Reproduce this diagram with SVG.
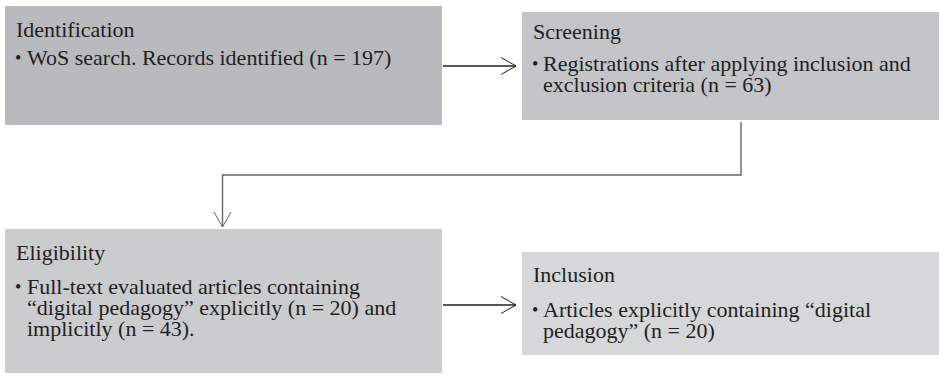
<svg xmlns="http://www.w3.org/2000/svg" width="939" height="375" viewBox="0 0 939 375">
<defs>
<marker id="open" viewBox="0 0 18 20" refX="16" refY="10" markerWidth="18" markerHeight="20" markerUnits="userSpaceOnUse" orient="auto">
<path d="M1,1.5 L16,10 L1,18.5" fill="none" stroke="context-stroke" stroke-width="1"/>
</marker>
</defs>
<style>
text{font-family:"Liberation Serif","Times New Roman",serif;font-size:22px;fill:#231f20}
.b{font-size:18px}
.conn{fill:none;stroke:#231f20;stroke-width:1.6}
.elbow{fill:none;stroke:#666;stroke-width:1.4}
</style>
<rect width="939" height="375" fill="#fff"/>
<g id="identification">
<rect x="5" y="6" width="437" height="119" fill="#b9babd"/>
<text x="16" y="37">Identification</text>
<text class="b" x="15" y="64">•</text><text x="27" y="65">WoS search. Records identified (n = 197)</text>
</g>
<g id="screening">
<rect x="522" y="12" width="417" height="108" fill="#c4c5c8"/>
<text x="533" y="39">Screening</text>
<text class="b" x="532" y="70">•</text><text x="543" y="71">Registrations after applying inclusion and</text>
<text x="543" y="92">exclusion criteria (n = 63)</text>
</g>
<g id="eligibility">
<rect x="5" y="229" width="437" height="144" fill="#cbccce"/>
<text x="16" y="260">Eligibility</text>
<text class="b" x="15" y="293">•</text><text x="27" y="294">Full-text evaluated articles containing</text>
<text x="27" y="315">“digital pedagogy” explicitly (n = 20) and</text>
<text x="27" y="336">implicitly (n = 43).</text>
</g>
<g id="inclusion">
<rect x="522" y="252" width="417" height="103" fill="#d6d7d9"/>
<text x="533" y="282">Inclusion</text>
<text class="b" x="532" y="316">•</text><text x="543" y="317">Articles explicitly containing “digital</text>
<text x="543" y="338">pedagogy” (n = 20)</text>
</g>
<g id="connectors">
<path class="conn" d="M443,66 H516" marker-end="url(#open)"/>
<path class="elbow" d="M741,122 V175 H222.5 V227" marker-end="url(#open)"/>
<path class="conn" d="M443,305 H516" marker-end="url(#open)"/>
</g>
</svg>
